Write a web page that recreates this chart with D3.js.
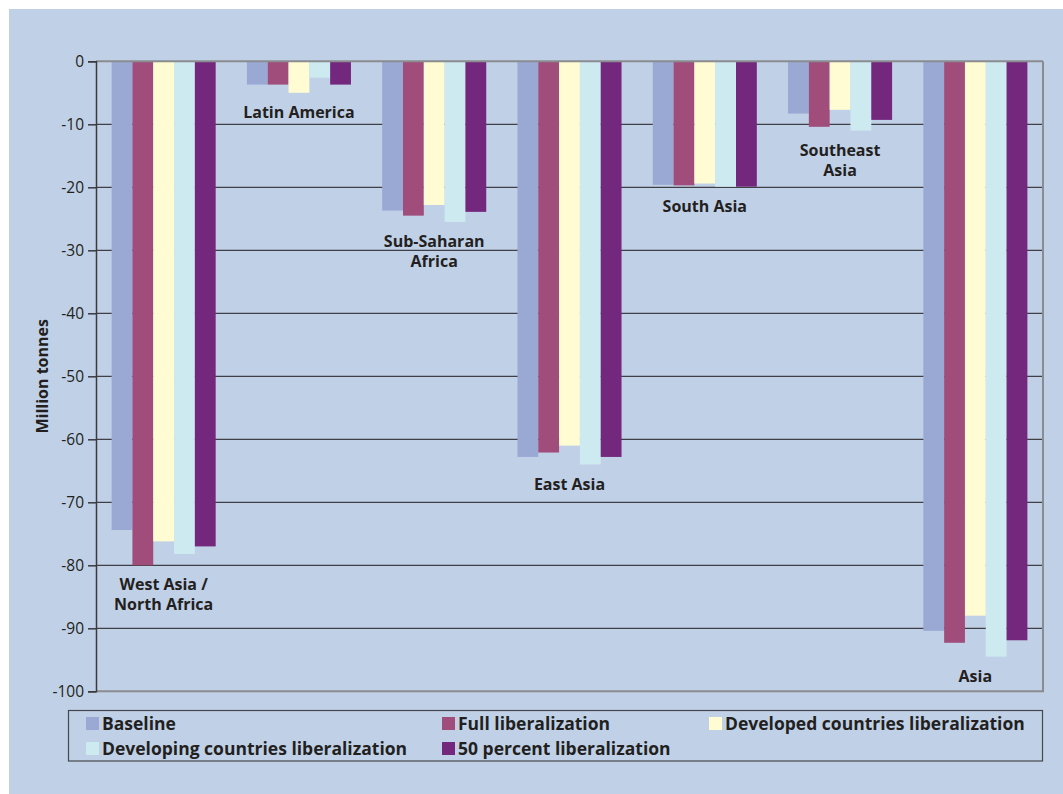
<!DOCTYPE html>
<html>
<head>
<meta charset="utf-8">
<script src="https://cdn.jsdelivr.net/npm/d3@7"></script>
<style>
  html, body { margin: 0; padding: 0; background: #ffffff; }
  svg { display: block; }
  text { font-family: "Open Sans", "DejaVu Sans", sans-serif; fill: #231f20; }
</style>
</head>
<body>
<svg id="chart" width="1063" height="794"></svg>
<script>
// Regions (x categories); multi-line labels split on "|"
const regions = [
  "West Asia /|North Africa",
  "Latin America",
  "Sub-Saharan|Africa",
  "East Asia",
  "South Asia",
  "Southeast|Asia",
  "Asia"
];

// Scenario series, million tonnes, one value per region
const seriesNames = [
  "Baseline",
  "Full liberalization",
  "Developed countries liberalization",
  "Developing countries liberalization",
  "50 percent liberalization"
];
const baseline      = [-74.4, -3.7, -23.7, -62.8, -19.6, -8.3, -90.4];
const fullLib       = [-80.0, -3.7, -24.5, -62.1, -19.7, -10.4, -92.3];
const developedLib  = [-76.2, -5.0, -22.8, -61.0, -19.4, -7.7, -88.0];
const developingLib = [-78.2, -2.6, -25.5, -64.0, -19.9, -11.0, -94.5];
const halfLib       = [-77.0, -3.7, -23.9, -62.8, -19.9, -9.3, -91.9];

const seriesValues = [baseline, fullLib, developedLib, developingLib, halfLib];
const seriesColors = ["#9aa8d4", "#a04d7c", "#fffbd2", "#cdeaf0", "#73287d"];

const yTicks = [0, -10, -20, -30, -40, -50, -60, -70, -80, -90, -100];

const svg = d3.select("#chart");

// Panel background
svg.append("rect")
  .attr("x", 9).attr("y", 9)
  .attr("width", 1054).attr("height", 785)
  .attr("fill", "#c0d1e7");

const plot = { left: 96, right: 1043, top: 61.3, bottom: 691.3 };

const y = d3.scaleLinear().domain([0, -100]).range([plot.top, plot.bottom]);
const x0 = d3.scaleBand().domain(regions).range([plot.left, plot.right]).padding(0);
const x1 = d3.scaleBand().domain(seriesNames).range([0, x0.bandwidth()]).paddingOuter(0.75);

// Gridlines
svg.append("g")
  .selectAll("line")
  .data(yTicks.filter(t => t !== 0 && t !== -100))
  .join("line")
  .attr("x1", plot.left).attr("x2", plot.right)
  .attr("y1", d => y(d)).attr("y2", d => y(d))
  .attr("stroke", "#3f3f45").attr("stroke-width", 1.2);

// Bars
const rows = regions.map((r, i) => ({
  region: r,
  values: seriesNames.map((s, j) => ({ series: s, value: seriesValues[j][i], color: seriesColors[j] }))
}));

const groups = svg.append("g")
  .selectAll("g")
  .data(rows)
  .join("g")
  .attr("transform", d => `translate(${x0(d.region)},0)`);

groups.selectAll("rect")
  .data(d => d.values)
  .join("rect")
  .attr("x", d => x1(d.series))
  .attr("width", x1.bandwidth())
  .attr("y", y(0))
  .attr("height", d => y(d.value) - y(0))
  .attr("fill", d => d.color);

// Region labels below the deepest bar of each group, one text per line
groups.each(function(d) {
  const lowest = d3.min(d.values, v => v.value);
  const lines = d.region.split("|");
  d3.select(this).selectAll("text.region")
    .data(lines)
    .join("text")
    .attr("class", "region")
    .attr("text-anchor", "middle")
    .attr("font-size", 16)
    .attr("font-weight", "bold")
    .attr("x", x0.bandwidth() / 2)
    .attr("y", (ln, k) => y(lowest) + 25 + k * 20)
    .text(ln => ln);
});

// Plot frame: zero line, right and bottom edges
svg.append("line")
  .attr("x1", plot.left).attr("x2", plot.right)
  .attr("y1", y(0)).attr("y2", y(0))
  .attr("stroke", "#8a8c90").attr("stroke-width", 2);
svg.append("line")
  .attr("x1", plot.left).attr("x2", plot.right + 1)
  .attr("y1", y(-100)).attr("y2", y(-100))
  .attr("stroke", "#8a8c90").attr("stroke-width", 2);
svg.append("line")
  .attr("x1", plot.right).attr("x2", plot.right)
  .attr("y1", y(0)).attr("y2", y(-100))
  .attr("stroke", "#8a8c90").attr("stroke-width", 2);

// Y axis
const yAxis = d3.axisLeft(y).tickValues(yTicks).tickSize(8).tickPadding(4).tickFormat(d => String(d));
const ga = svg.append("g")
  .attr("transform", `translate(${plot.left},0)`)
  .call(yAxis);
ga.select(".domain").attr("stroke", "#3a3a3f").attr("stroke-width", 1.5);
ga.selectAll(".tick line").attr("stroke", "#3a3a3f").attr("stroke-width", 1.5);
ga.selectAll(".tick text")
  .attr("font-size", 15.5)
  .attr("font-family", "'Open Sans', sans-serif")
  .attr("fill", "#231f20");

// Y axis title
svg.append("text")
  .attr("transform", `translate(48,${(plot.top + plot.bottom) / 2}) rotate(-90)`)
  .attr("text-anchor", "middle")
  .attr("font-size", 16)
  .attr("font-weight", "bold")
  .text("Million tonnes");

// Legend
const legend = svg.append("g");
legend.append("rect")
  .attr("x", 68.5).attr("y", 710.5)
  .attr("width", 974).attr("height", 50.5)
  .attr("fill", "none")
  .attr("stroke", "#45474c").attr("stroke-width", 1.2);

const legendPos = [
  { col: 86, row: 717 },
  { col: 442, row: 717 },
  { col: 709, row: 717 },
  { col: 86, row: 742 },
  { col: 442, row: 742 }
];
const items = legend.selectAll("g.item")
  .data(seriesNames.map((s, i) => ({ name: s, color: seriesColors[i], pos: legendPos[i] })))
  .join("g")
  .attr("class", "item")
  .attr("transform", d => `translate(${d.pos.col},${d.pos.row})`);
items.append("rect")
  .attr("width", 13).attr("height", 13)
  .attr("fill", d => d.color);
items.append("text")
  .attr("x", 16).attr("y", 12.5)
  .attr("font-size", 17.5)
  .attr("font-weight", "bold")
  .text(d => d.name);
</script>
</body>
</html>
